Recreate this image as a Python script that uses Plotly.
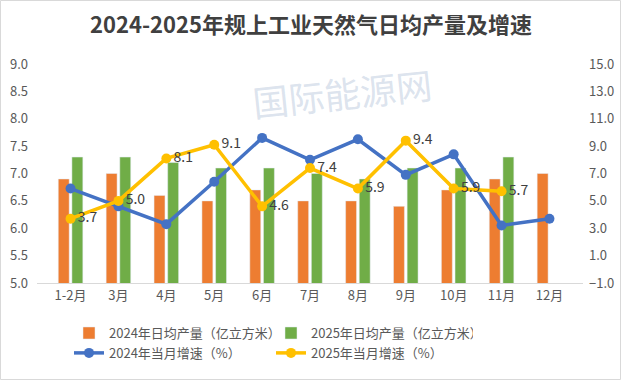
import plotly.graph_objects as go

categories = ["1-2月", "3月", "4月", "5月", "6月", "7月", "8月", "9月", "10月", "11月", "12月"]
prod_2024 = [6.9, 7.0, 6.6, 6.5, 6.7, 6.5, 6.5, 6.4, 6.7, 6.9, 7.0]
prod_2025 = [7.3, 7.3, 7.2, 7.1, 7.1, 7.0, 6.9, 7.1, 7.1, 7.3]
growth_2024 = [5.9, 4.6, 3.3, 6.4, 9.6, 8.0, 9.5, 6.9, 8.4, 3.2, 3.7]
growth_2025 = [3.7, 5.0, 8.1, 9.1, 4.6, 7.4, 5.9, 9.4, 5.9, 5.7]

left_ticks = [5.0, 5.5, 6.0, 6.5, 7.0, 7.5, 8.0, 8.5, 9.0]
right_ticks = [-1.0, 1.0, 3.0, 5.0, 7.0, 9.0, 11.0, 13.0, 15.0]

FONT = "Noto Sans CJK SC"
W, H = 622, 381
ML, MR, MT, MB = 37, 39, 64, 98
PW, PH = W - ML - MR, H - MT - MB

fig = go.Figure()
fig.add_trace(go.Bar(x=categories, y=prod_2024, name="2024年日均产量（亿立方米）",
                     marker_color="#ED7D31", yaxis="y"))
fig.add_trace(go.Bar(x=categories[:len(prod_2025)], y=prod_2025, name="2025年日均产量（亿立方米）",
                     marker_color="#70AD47", yaxis="y"))
fig.add_trace(go.Scatter(x=categories, y=growth_2024, name="2024年当月增速（%）", yaxis="y2",
                         mode="lines+markers", line=dict(color="#4472C4", width=3.5),
                         marker=dict(size=10, color="#4472C4")))
fig.add_trace(go.Scatter(x=categories[:len(growth_2025)], y=growth_2025, name="2025年当月增速（%）",
                         yaxis="y2", mode="lines+markers+text",
                         text=[f"{v:.1f}" for v in growth_2025], textposition="middle right",
                         textfont=dict(size=14, color="#404040", family=FONT),
                         line=dict(color="#FFC000", width=3.5),
                         marker=dict(size=10, color="#FFC000")))

fig.update_layout(
    width=W, height=H,
    margin=dict(l=ML, r=MR, t=MT, b=MB, autoexpand=False),
    paper_bgcolor="white", plot_bgcolor="white",
    font=dict(family=FONT, color="#595959", size=12),
    title=dict(text="<b>2024-2025年规上工业天然气日均产量及增速</b>", x=0.5, xanchor="center",
               y=1 - 25 / H, yanchor="middle", yref="container",
               font=dict(size=22, color="#404040", family=FONT)),
    barmode="group", bargap=0.43, bargroupgap=0.2,
    xaxis=dict(showgrid=False, showline=True, linecolor="#d9d9d9", linewidth=1, automargin=False,
               ticks="", tickfont=dict(size=13, color="#595959")),
    yaxis=dict(range=[5.0, 9.0], tickvals=left_ticks, tickformat=".1f", showgrid=False,
               zeroline=False, showline=False, ticks="", ticklabelstandoff=8, automargin=False,
               tickfont=dict(size=13, color="#595959")),
    yaxis2=dict(range=[-1.0, 15.0], tickvals=right_ticks, tickformat=".1f", overlaying="y",
                side="right", showgrid=False, zeroline=False, showline=False, ticks="",
                ticklabelstandoff=5, automargin=False, tickfont=dict(size=13, color="#595959")),
    legend=dict(orientation="h", x=(69 - ML) / PW, xanchor="left", y=-0.16, yanchor="top",
                entrywidth=157, entrywidthmode="pixels", traceorder="normal",
                font=dict(size=13, color="#595959", family=FONT)),
    showlegend=True,
)

# watermark
fig.add_annotation(text="国际能源网", xref="paper", yref="paper",
                   x=(342 - ML) / PW, y=1 - (92 - MT) / PH, xanchor="center", yanchor="middle",
                   showarrow=False, textangle=-6,
                   font=dict(size=36, color="rgba(165,184,210,0.4)", family=FONT))

# outer border
fig.add_shape(type="rect", xref="paper", yref="paper",
              x0=-(ML - 0.5) / PW, x1=(W - ML - 1.5) / PW,
              y0=-(MB - 1.5) / PH, y1=1 + (MT - 0.5) / PH,
              line=dict(color="#d9d9d9", width=1), fillcolor="rgba(0,0,0,0)", layer="below")

fig.write_html("out.html", config={"displayModeBar": False},
               post_script="document.body.style.margin='0';")
